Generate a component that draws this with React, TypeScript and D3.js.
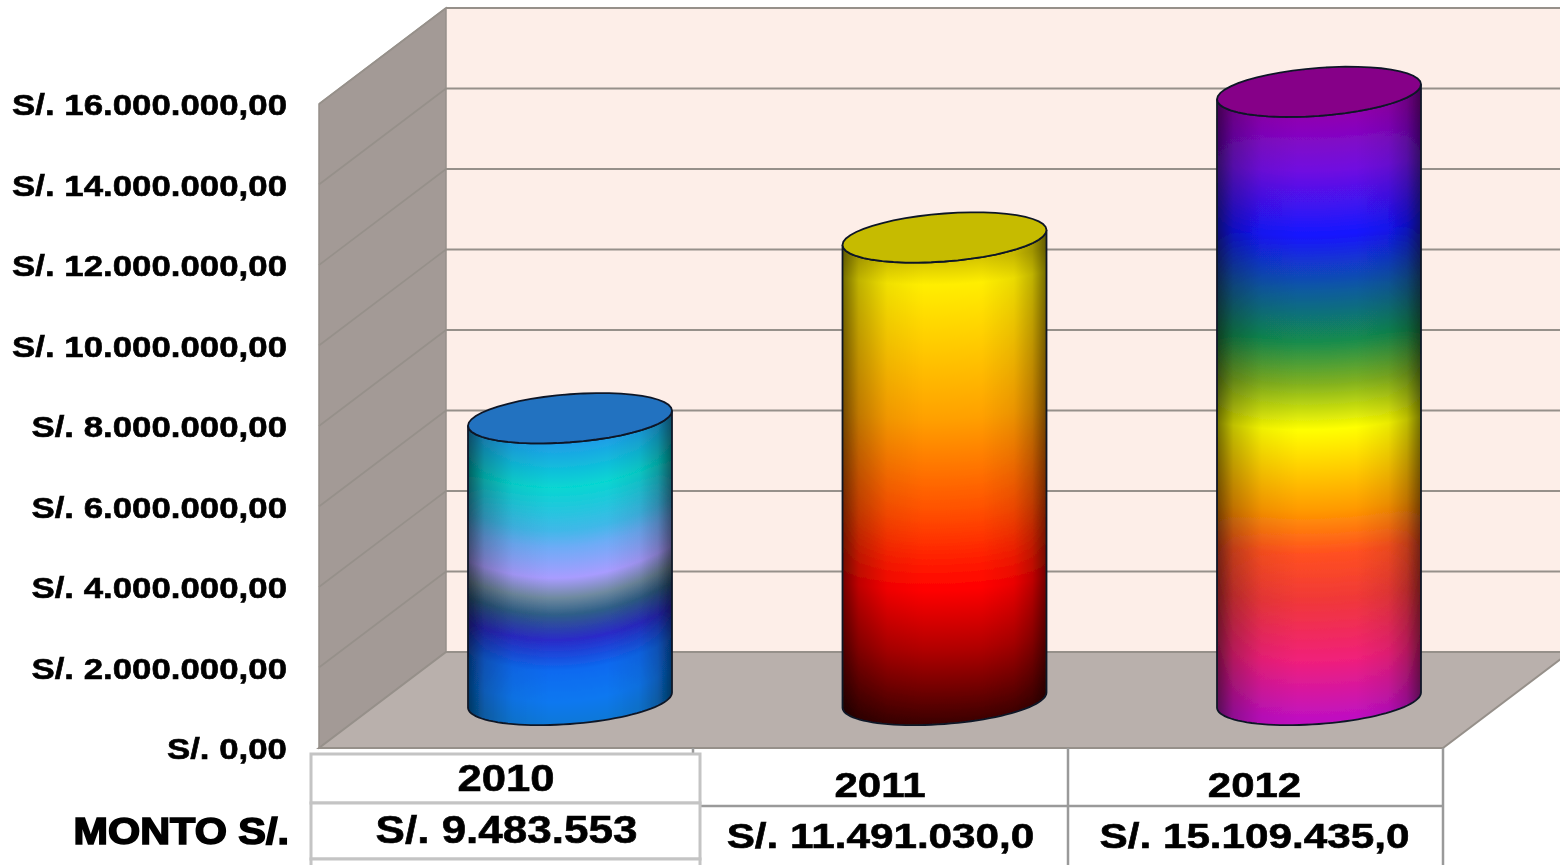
import React from "react";
import * as d3 from "d3";

const years = ["2010", "2011", "2012"];
const plottedValues = [7000000, 11491030, 15109435];
const amountLabels = ["S/. 9.483.553", "S/. 11.491.030,0", "S/. 15.109.435,0"];
const tickValues = [0, 2000000, 4000000, 6000000, 8000000, 10000000, 12000000, 14000000, 16000000];
const tickLabels = ["S/. 0,00", "S/. 2.000.000,00", "S/. 4.000.000,00", "S/. 6.000.000,00", "S/. 8.000.000,00", "S/. 10.000.000,00", "S/. 12.000.000,00", "S/. 14.000.000,00", "S/. 16.000.000,00"];
const rowLabel = "MONTO S/.";

const capColors = ["#2272c0", "#c6bb00", "#860088"];
const bandCurve = [24, 10, 10];
const gradients: [number, string][][] = [
  [[0, "#1f9ce8"], [0.16, "#06d6d2"], [0.31, "#3fb8e8"], [0.37, "#6cacf6"], [0.48, "#a89cff"], [0.55, "#6f8aa0"], [0.61, "#2f5f88"], [0.7, "#2a2ac8"], [0.81, "#0c6af0"], [0.92, "#0a78f0"], [1, "#0a78d8"]],
  [[0, "#d8c800"], [0.05, "#ffee00"], [0.34, "#ffa000"], [0.54, "#ff5000"], [0.71, "#ff0000"], [0.84, "#b00000"], [1, "#3a0000"]],
  [[0, "#9000b0"], [0.09, "#7010e0"], [0.196, "#1414ff"], [0.286, "#105aa0"], [0.368, "#128a50"], [0.44, "#80b020"], [0.516, "#ffff00"], [0.648, "#ff9a00"], [0.72, "#ff5020"], [0.796, "#f03838"], [0.895, "#f0207a"], [0.99, "#c010c0"]],
];

const W = 1560, H = 865;
const backLeft = 446, backRight = 1570, depthX = 127, depthY = 96;
const y = d3.scaleLinear().domain([0, 16000000]).range([652, 8]);
const x = d3.scalePoint<string>().domain(years).range([570, 1319]);
const A = 102, B = 24, S = 7.5, BASE_SHIFT = 48;
const GRID = "#96908a";
const FONT = "'Liberation Sans', Arial, sans-serif";

const arcPoints = (cx: number, cy: number, from: number, to: number): [number, number][] =>
  d3.range(0, 49).map((i) => {
    const t = from + ((to - from) * i) / 48;
    return [cx + A * Math.cos(t), cy + B * Math.sin(t) - S * Math.cos(t)];
  });
const line = d3.line();

function Cylinder({ i }: { i: number }) {
  const cx = x(years[i])!;
  const top = y(plottedValues[i]) + BASE_SHIFT;
  const base = y(0) + BASE_SHIFT;
  const capPath = line(arcPoints(cx, top, 0, Math.PI * 2))! + "Z";
  const bodyPath =
    line([...arcPoints(cx, base, Math.PI, 0), ...arcPoints(cx, top, 0, Math.PI)])! + "Z";
  const d = bandCurve[i];
  const strips = d3.range(cx - A, cx + A, 2).map((sx) => {
    const c = Math.max(-1, Math.min(1, (sx + 1 - cx) / A));
    const off = B - d + d * (1 - c * c) - (d / B) * S * c;
    return { sx, off };
  });
  const stops = gradients[i];
  const firstColor = stops[0][1];
  const lastColor = stops[stops.length - 1][1];
  return (
    <g>
      <defs>
        <linearGradient id={`g${i}`} x1="0" y1="0" x2="0" y2="1">
          {stops.map(([o, col]) => (
            <stop key={o} offset={o} stopColor={col} />
          ))}
        </linearGradient>
        <clipPath id={`c${i}`}>
          <path d={bodyPath} />
        </clipPath>
      </defs>
      <g clipPath={`url(#c${i})`}>
        <rect x={cx - A} y={top - 30} width={A * 2} height={70} fill={firstColor} />
        <rect x={cx - A} y={base - 20} width={A * 2} height={60} fill={lastColor} />
        {strips.map(({ sx, off }) => (
          <rect key={sx} x={sx} y={top + off} width={2.6} height={base - top} fill={`url(#g${i})`} />
        ))}
        <rect x={cx - A} y={top - 30} width={A * 2} height={base - top + 70} fill="url(#shade)" />
      </g>
      <path d={bodyPath} fill="none" stroke="#101828" strokeWidth={1.8} />
      <path d={capPath} fill={capColors[i]} stroke="#101828" strokeWidth={1.8} />
    </g>
  );
}

function Stretched({ x: tx, y: ty, sx, size, anchor, children, bold }: any) {
  return (
    <text
      transform={`translate(${tx},${ty}) scale(${sx},1)`}
      textAnchor={anchor}
      fontFamily={FONT}
      fontWeight={700}
      fontSize={size}
      fill="#050505"
      stroke="#050505"
      strokeWidth={bold ?? 0.6}
    >
      {children}
    </text>
  );
}

export default function App() {
  const y0 = y(0);
  const yMax = y(16000000);
  const fx = backLeft - depthX;
  const frontY0 = y0 + depthY;
  const pts = (a: number[][]) => a.map((p) => p.join(",")).join(" ");
  return (
    <svg width={W} height={H} viewBox={`0 0 ${W} ${H}`} style={{ position: "absolute", left: 0, top: 0, background: "#fff" }}>
      <defs>
        <linearGradient id="shade" x1="0" y1="0" x2="1" y2="0">
          <stop offset="0" stopColor="#000" stopOpacity={0.55} />
          <stop offset="0.08" stopColor="#000" stopOpacity={0.25} />
          <stop offset="0.22" stopColor="#000" stopOpacity={0.06} />
          <stop offset="0.4" stopColor="#000" stopOpacity={0} />
          <stop offset="0.68" stopColor="#000" stopOpacity={0} />
          <stop offset="0.84" stopColor="#000" stopOpacity={0.08} />
          <stop offset="0.93" stopColor="#000" stopOpacity={0.25} />
          <stop offset="1" stopColor="#000" stopOpacity={0.55} />
        </linearGradient>
        <filter id="soft" x="-2%" y="-2%" width="104%" height="104%">
          <feGaussianBlur stdDeviation={0.45} />
        </filter>
      </defs>
      <g filter="url(#soft)">
        <rect x={backLeft} y={yMax} width={backRight - backLeft} height={y0 - yMax} fill="#fdeee8" />
        <polygon points={pts([[fx, frontY0], [backLeft, y0], [backLeft, yMax], [fx, yMax + depthY]])} fill="#a39a96" stroke={GRID} strokeWidth={1.5} />
        <polygon
          points={pts([[fx, frontY0], [backLeft, y0], [backRight, y0], [backRight - depthX, frontY0]])}
          fill="#b9b0ac"
          stroke={GRID}
          strokeWidth={2}
        />
        {tickValues.map((v) => (
          <g key={v} stroke={GRID} fill="none">
            {v > 0 && <line x1={backLeft} x2={backRight} y1={y(v)} y2={y(v)} strokeWidth={2} />}
            {v > 0 && <line x1={fx} x2={backLeft} y1={y(v) + depthY} y2={y(v)} strokeWidth={1.6} />}
          </g>
        ))}
        {years.map((_, i) => (
          <Cylinder key={i} i={i} />
        ))}

        <g stroke="#9a9a9a" strokeWidth={2.5} fill="none">
          <line x1={693} x2={693} y1={frontY0} y2={756} />
          <line x1={700} x2={1443} y1={806} y2={806} />
          <line x1={1068} x2={1068} y1={frontY0} y2={H} />
          <line x1={1443} x2={1443} y1={frontY0} y2={H} />
        </g>
        <g stroke="#c4c4c4" strokeWidth={3} fill="#fff">
          <rect x={311} y={754} width={389} height={49} />
          <rect x={311} y={803} width={389} height={56} />
          <rect x={311} y={859} width={389} height={20} />
        </g>

        {tickValues.map((v, i) => (
          <Stretched key={v} x={287} y={y(v) + depthY + 11} sx={1.161} size={30} anchor="end">
            {tickLabels[i]}
          </Stretched>
        ))}
        <Stretched x={289} y={844} sx={1.12} size={37} anchor="end" bold={1.6}>
          {rowLabel}
        </Stretched>

        <Stretched x={506} y={791} sx={1.18} size={37} anchor="middle">{years[0]}</Stretched>
        <Stretched x={880} y={797} sx={1.2} size={35} anchor="middle">{years[1]}</Stretched>
        <Stretched x={1254.5} y={797} sx={1.2} size={35} anchor="middle">{years[2]}</Stretched>
        <Stretched x={506.5} y={843} sx={1.158} size={38} anchor="middle">{amountLabels[0]}</Stretched>
        <Stretched x={880.5} y={848} sx={1.207} size={35} anchor="middle">{amountLabels[1]}</Stretched>
        <Stretched x={1254.5} y={848} sx={1.207} size={35} anchor="middle">{amountLabels[2]}</Stretched>
      </g>
    </svg>
  );
}
